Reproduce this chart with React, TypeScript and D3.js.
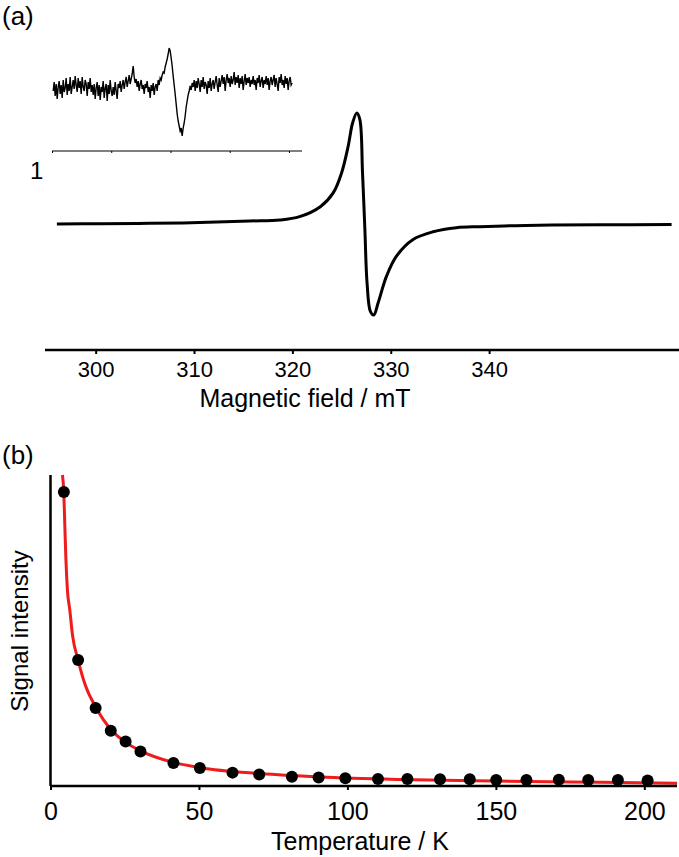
import React, { useRef, useEffect } from "react";
import * as d3 from "d3";

// panel (a) main spectrum (field in mT, signal in arbitrary units)
const spectrumField = [296.06, 300.52, 305.48, 310.56, 315.64, 318.74, 320.73, 322.84, 324.15, 325.0, 325.67, 326.12, 326.55, 326.86, 327.13, 327.37, 327.59, 327.94, 328.28, 328.72, 329.57, 330.58, 332.27, 334.3, 336.68, 339.05, 342.67, 346.39, 351.35, 358.55];
const spectrumSignal = [0, 0.003, 0.006, 0.013, 0.027, 0.036, 0.066, 0.156, 0.28, 0.46, 0.7, 0.91, 1.0, 0.94, 0.46, -0.05, -0.53, -0.79, -0.82, -0.71, -0.47, -0.29, -0.14, -0.07, -0.033, -0.024, -0.015, -0.01, -0.007, -0.005];
const fieldTicks = [300, 310, 320, 330, 340];

// inset spectrum (noisy), one sample per pixel column
const insetSignal = [
  -3, 6, -8, 4, -11, 1, 7, -6, 3, -10, 8, -4, 0, 10, -7, 4, -3, 11, -6, 1,
  8, -1, 12, 3, -4, 10, 0, 7, -6, 11, 1, -3, 8, 4, -8, 6, -1, 10, -4, 3,
  -7, 4, -11, 0, 6, -8, 3, -12, 1, -4, 7, -10, 0, 4, -13, 3, -6, 8, -3, -8,
  1, -7, 6, -3, -11, 4, 0, 7, -4, 3, 8, -1, 6, 11, 1, 7, 13, 4, 9, 14,
  22, 11, 5, 9, 1, 7, -3, 4, 8, -1, 3, -6, 4, 0, 7, -4, 1, -10, 3, -3,
  5, -7, 1, 4, -3, 8, 3, 10, 8, 13, 16, 15, 21, 25, 29, 34, 40, 37, 30, 22,
  12, 3, -6, -16, -26, -33, -38, -43, -40, -48, -40, -35, -28, -19, -13, -7, -3, 2, -2, 5,
  1, 8, -3, 7, 0, 10, 4, -4, 8, 1, 11, -1, 6, 3, -6, 7, 0, 10, -3, 4,
  8, -1, 6, 12, 3, -4, 10, 1, 7, 13, 4, 11, -3, 8, 14, 5, 10, 1, 12, 4,
  8, 16, 3, 11, 5, 13, 0, 10, 4, 12, -2, 7, 14, 3, 10, 5, 11, 1, 8, 4,
  12, 3, 8, -2, 10, 5, 13, 1, 7, 11, 0, 8, 4, 12, 3, 10, -2, 7, 11, 3,
  8, 13, 1, 10, 4, -3, 11, 5, 14, 3, 8, 0, 12, 4, 10, -2, 7, 11, 3, 5,
];
const insetTicks = [0, 1, 2, 3, 4];

// panel (b) temperature dependence
const temps = [4.5, 9.3, 15.2, 20.3, 25.3, 30.3, 41.4, 50.3, 61.3, 70.3, 81.3, 90.3, 99.3, 110.3, 120.2, 131.2, 141.2, 150.1, 160.3, 171.2, 181.1, 191.1, 201.1];
const intensity = [94.5, 40.5, 25.1, 17.8, 14.3, 11.1, 7.4, 5.8, 4.3, 3.7, 3.0, 2.7, 2.5, 2.25, 2.25, 2.15, 2.15, 1.93, 1.93, 2.0, 1.93, 1.93, 1.75];
const fitTemps = [4.03, 4.47, 4.87, 5.2, 5.7, 6.5, 7.4, 9.3, 11.8, 15.4, 20.5, 25.2, 30.3, 41.3, 50.4, 70.6, 90.8, 117.6, 151, 185, 211];
const fitIntensity = [100, 94.5, 82.3, 72.7, 63, 56.6, 48.6, 40.5, 32.2, 25.1, 18, 14.1, 11.3, 7.6, 5.9, 4.0, 2.9, 2.1, 1.6, 1.2, 0.9];
const tempTicks = [0, 50, 100, 150, 200];

const FONT = "'Liberation Sans', Arial, sans-serif";

const App = () => {
  const svgRef = useRef<SVGSVGElement>(null);

  useEffect(() => {
    const width = 679;
    const height = 857;
    const svg = d3.select(svgRef.current).attr("width", width).attr("height", height);
    svg.selectAll("*").remove();

    // ---- panel (a) ----
    const x = d3.scaleLinear().domain([294.85, 359.1]).range([45, 677]);
    const y = d3.scaleLinear().domain([-1, 1]).range([335, 113]);

    const spec = spectrumField.map((f, i) => [f, spectrumSignal[i]] as [number, number]);
    svg
      .append("path")
      .datum(spec)
      .attr("fill", "none")
      .attr("stroke", "#000")
      .attr("stroke-width", 3)
      .attr("stroke-linejoin", "round")
      .attr("d", d3.line().x((d) => x(d[0])).y((d) => y(d[1])).curve(d3.curveCatmullRom.alpha(0.5)));

    const axA = svg
      .append("g")
      .attr("transform", "translate(0,350)")
      .call(d3.axisBottom(x).tickValues(fieldTicks).tickSize(4).tickPadding(7).tickFormat(d3.format("d")));
    axA.select(".domain").attr("d", `M45,0H679`).attr("stroke-width", 2.5);
    axA.selectAll(".tick line").attr("stroke-width", 2);
    axA.selectAll("text").attr("font-family", FONT).attr("font-size", 22).attr("fill", "#000");

    svg
      .append("text")
      .attr("x", 305)
      .attr("y", 407)
      .attr("text-anchor", "middle")
      .attr("font-family", FONT)
      .attr("font-size", 25)
      .text("Magnetic field / mT");

    // inset
    const xi = d3.scaleLinear().domain([0, 4.22]).range([52, 302]);
    const yi = d3.scaleLinear().domain([-50, 50]).range([138, 38]);
    const step = 1 / 59.25;
    svg
      .append("path")
      .datum(insetSignal)
      .attr("fill", "none")
      .attr("stroke", "#000")
      .attr("stroke-width", 1.4)
      .attr("d", d3.line<number>().x((_, i) => xi(0.02 + i * step)).y((d) => yi(d)));

    const axI = svg
      .append("g")
      .attr("transform", "translate(0,151)")
      .call(d3.axisBottom(xi).tickValues(insetTicks).tickSize(2).tickFormat(() => ""));
    axI.select(".domain").attr("d", `M${xi.range()[0]},0H${xi.range()[1]}`).attr("stroke-width", 1);

    svg.append("text").attr("x", 2).attr("y", 25).attr("font-family", FONT).attr("font-size", 26).text("(a)");
    svg.append("text").attr("x", 30).attr("y", 179).attr("font-family", FONT).attr("font-size", 24).text("1");

    // ---- panel (b) ----
    const xb = d3.scaleLinear().domain([0, 211]).range([50.5, 677]);
    const yb = d3.scaleLinear().domain([0, 100]).range([786, 475]);

    const fit = fitTemps.map((t, i) => [t, fitIntensity[i]] as [number, number]);
    svg
      .append("path")
      .datum(fit)
      .attr("fill", "none")
      .attr("stroke", "#ee1c1c")
      .attr("stroke-width", 3)
      .attr("d", d3.line().x((d) => xb(d[0])).y((d) => yb(d[1])).curve(d3.curveMonotoneX));

    svg
      .append("g")
      .selectAll("circle")
      .data(temps)
      .join("circle")
      .attr("cx", (d) => xb(d))
      .attr("cy", (_, i) => yb(intensity[i]))
      .attr("r", 6)
      .attr("fill", "#000");

    const axB = svg
      .append("g")
      .attr("transform", "translate(0,786)")
      .call(d3.axisBottom(xb).tickValues(tempTicks).tickSize(4).tickPadding(12));
    axB.select(".domain").attr("d", `M${xb.range()[0]},0H${xb.range()[1]}`).attr("stroke-width", 2.5);
    axB.selectAll(".tick line").attr("stroke-width", 2);
    axB.selectAll("text").attr("font-family", FONT).attr("font-size", 25).attr("fill", "#000");

    svg
      .append("line")
      .attr("x1", xb(0))
      .attr("x2", xb(0))
      .attr("y1", yb(100))
      .attr("y2", yb(0))
      .attr("stroke", "#000")
      .attr("stroke-width", 2.5);

    svg
      .append("text")
      .attr("x", 360)
      .attr("y", 850)
      .attr("text-anchor", "middle")
      .attr("font-family", FONT)
      .attr("font-size", 25)
      .text("Temperature / K");

    svg
      .append("text")
      .attr("transform", "translate(28,631) rotate(-90)")
      .attr("text-anchor", "middle")
      .attr("font-family", FONT)
      .attr("font-size", 24)
      .text("Signal intensity");

    svg.append("text").attr("x", 2).attr("y", 464).attr("font-family", FONT).attr("font-size", 26).text("(b)");
  }, []);

  return (
    <div style={{ position: "absolute", left: 0, top: 0, background: "#fff" }}>
      <svg ref={svgRef}></svg>
    </div>
  );
};

export default App;
